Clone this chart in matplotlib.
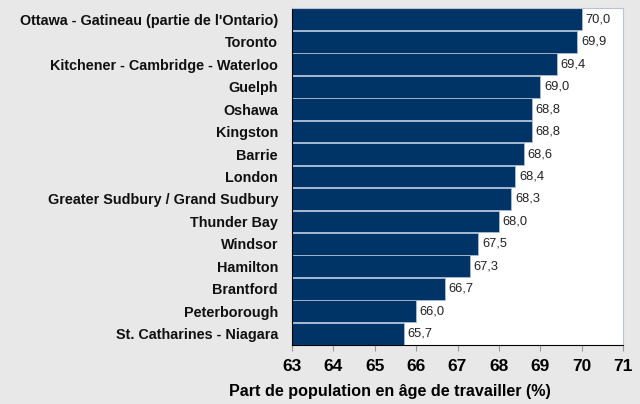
import matplotlib.pyplot as plt
import numpy as np

plt.rcParams['font.family'] = ['Liberation Sans', 'DejaVu Sans']

# Data (top to bottom)
regions = [
    "Ottawa - Gatineau (partie de l'Ontario)",
    "Toronto",
    "Kitchener - Cambridge - Waterloo",
    "Guelph",
    "Oshawa",
    "Kingston",
    "Barrie",
    "London",
    "Greater Sudbury / Grand Sudbury",
    "Thunder Bay",
    "Windsor",
    "Hamilton",
    "Brantford",
    "Peterborough",
    "St. Catharines - Niagara",
]
values = [70.0, 69.9, 69.4, 69.0, 68.8, 68.8, 68.6, 68.4, 68.3, 68.0, 67.5, 67.3, 66.7, 66.0, 65.7]
x_ticks = [63, 64, 65, 66, 67, 68, 69, 70, 71]

fig = plt.figure(figsize=(6.4, 4.04), dpi=100, facecolor='#e8e8e8')
ax = fig.add_axes([292 / 640, 1 - 345 / 404, (623 - 292) / 640, (345 - 8) / 404])
ax.set_facecolor('white')

y = np.arange(len(regions))
ax.barh(y, np.array(values) - 63, left=63, height=0.97, color='#003366',
        edgecolor='#a9bdd6', linewidth=0.6)

for yi, v in zip(y, values):
    ax.text(v + 0.09, yi, f"{v:.1f}".replace('.', ','), va='center', ha='left',
            fontsize=9.3, color='#222222')

ax.set_yticks(y)
ax.set_yticklabels(regions, fontsize=10.4, fontweight='bold', color='#111111')
ax.tick_params(axis='y', length=0, pad=10)
ax.set_ylim(len(regions) - 0.5, -0.5)

ax.set_xlim(63, 71)
ax.set_xticks(x_ticks)
ax.set_xticklabels([str(t) for t in x_ticks], fontsize=12.5, fontweight='bold')
ax.tick_params(axis='x', length=4, color='#999999', pad=6)
ax.set_xlabel("Part de population en âge de travailler (%)", fontsize=11.6,
              fontweight='bold', labelpad=6)
ax.xaxis.set_label_coords(0.296, -0.115)

ax.spines['left'].set_color('black')
ax.spines['bottom'].set_color('black')
ax.spines['top'].set_color('#b8c4d4')
ax.spines['right'].set_color('#b8c4d4')

fig.savefig('out.png', dpi=100, facecolor=fig.get_facecolor())
